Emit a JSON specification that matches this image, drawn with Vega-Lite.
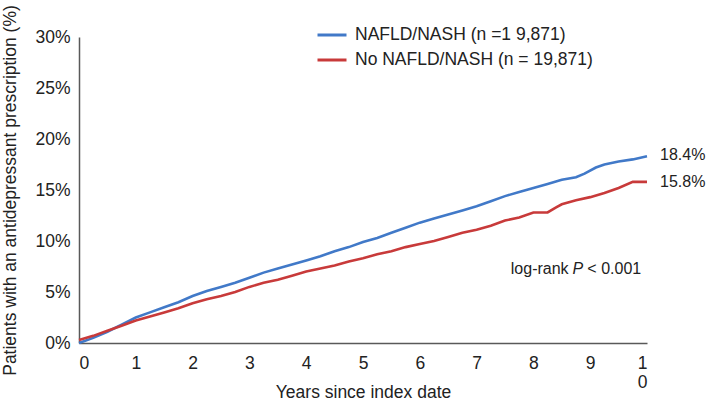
{
  "$schema": "https://vega.github.io/schema/vega-lite/v6.json",
  "width": 568,
  "height": 306,
  "autosize": "none",
  "padding": {"left": 79, "top": 37, "right": 62, "bottom": 59},
  "background": "white",
  "config": {
    "view": {"stroke": null},
    "font": "Liberation Sans",
    "axis": {
      "grid": false,
      "ticks": false,
      "domainColor": "#595959",
      "domainWidth": 1.5,
      "labelFont": "Liberation Sans",
      "labelFontSize": 17.5,
      "labelColor": "#222222",
      "titleFont": "Liberation Sans",
      "titleFontSize": 17.5,
      "titleFontWeight": "normal",
      "titleColor": "#222222"
    },
    "legend": {
      "labelFont": "Liberation Sans",
      "labelFontSize": 17.5,
      "labelColor": "#222222",
      "labelLimit": 0
    }
  },
  "datasets": {
    "curves": [
      {"year": 0, "pct": 0, "group": "NAFLD/NASH (n =1 9,871)"},
      {"year": 0.25, "pct": 0.5, "group": "NAFLD/NASH (n =1 9,871)"},
      {"year": 0.5, "pct": 1.1, "group": "NAFLD/NASH (n =1 9,871)"},
      {"year": 0.75, "pct": 1.8, "group": "NAFLD/NASH (n =1 9,871)"},
      {"year": 1, "pct": 2.5, "group": "NAFLD/NASH (n =1 9,871)"},
      {"year": 1.25, "pct": 3.0, "group": "NAFLD/NASH (n =1 9,871)"},
      {"year": 1.5, "pct": 3.5, "group": "NAFLD/NASH (n =1 9,871)"},
      {"year": 1.75, "pct": 4.0, "group": "NAFLD/NASH (n =1 9,871)"},
      {"year": 2, "pct": 4.6, "group": "NAFLD/NASH (n =1 9,871)"},
      {"year": 2.25, "pct": 5.1, "group": "NAFLD/NASH (n =1 9,871)"},
      {"year": 2.5, "pct": 5.5, "group": "NAFLD/NASH (n =1 9,871)"},
      {"year": 2.75, "pct": 5.9, "group": "NAFLD/NASH (n =1 9,871)"},
      {"year": 3, "pct": 6.4, "group": "NAFLD/NASH (n =1 9,871)"},
      {"year": 3.25, "pct": 6.9, "group": "NAFLD/NASH (n =1 9,871)"},
      {"year": 3.5, "pct": 7.3, "group": "NAFLD/NASH (n =1 9,871)"},
      {"year": 3.75, "pct": 7.7, "group": "NAFLD/NASH (n =1 9,871)"},
      {"year": 4, "pct": 8.1, "group": "NAFLD/NASH (n =1 9,871)"},
      {"year": 4.25, "pct": 8.5, "group": "NAFLD/NASH (n =1 9,871)"},
      {"year": 4.5, "pct": 9.0, "group": "NAFLD/NASH (n =1 9,871)"},
      {"year": 4.75, "pct": 9.4, "group": "NAFLD/NASH (n =1 9,871)"},
      {"year": 5, "pct": 9.9, "group": "NAFLD/NASH (n =1 9,871)"},
      {"year": 5.25, "pct": 10.3, "group": "NAFLD/NASH (n =1 9,871)"},
      {"year": 5.5, "pct": 10.8, "group": "NAFLD/NASH (n =1 9,871)"},
      {"year": 5.75, "pct": 11.3, "group": "NAFLD/NASH (n =1 9,871)"},
      {"year": 6, "pct": 11.8, "group": "NAFLD/NASH (n =1 9,871)"},
      {"year": 6.25, "pct": 12.2, "group": "NAFLD/NASH (n =1 9,871)"},
      {"year": 6.5, "pct": 12.6, "group": "NAFLD/NASH (n =1 9,871)"},
      {"year": 6.75, "pct": 13.0, "group": "NAFLD/NASH (n =1 9,871)"},
      {"year": 7, "pct": 13.4, "group": "NAFLD/NASH (n =1 9,871)"},
      {"year": 7.25, "pct": 13.9, "group": "NAFLD/NASH (n =1 9,871)"},
      {"year": 7.5, "pct": 14.4, "group": "NAFLD/NASH (n =1 9,871)"},
      {"year": 7.75, "pct": 14.8, "group": "NAFLD/NASH (n =1 9,871)"},
      {"year": 8, "pct": 15.2, "group": "NAFLD/NASH (n =1 9,871)"},
      {"year": 8.25, "pct": 15.6, "group": "NAFLD/NASH (n =1 9,871)"},
      {"year": 8.5, "pct": 16.0, "group": "NAFLD/NASH (n =1 9,871)"},
      {"year": 8.75, "pct": 16.25, "group": "NAFLD/NASH (n =1 9,871)"},
      {"year": 8.9, "pct": 16.6, "group": "NAFLD/NASH (n =1 9,871)"},
      {"year": 9.1, "pct": 17.2, "group": "NAFLD/NASH (n =1 9,871)"},
      {"year": 9.25, "pct": 17.5, "group": "NAFLD/NASH (n =1 9,871)"},
      {"year": 9.5, "pct": 17.8, "group": "NAFLD/NASH (n =1 9,871)"},
      {"year": 9.75, "pct": 18.0, "group": "NAFLD/NASH (n =1 9,871)"},
      {"year": 10, "pct": 18.3, "group": "NAFLD/NASH (n =1 9,871)"},
      {"year": 0, "pct": 0.3, "group": "No NAFLD/NASH (n = 19,871)"},
      {"year": 0.25, "pct": 0.7, "group": "No NAFLD/NASH (n = 19,871)"},
      {"year": 0.5, "pct": 1.2, "group": "No NAFLD/NASH (n = 19,871)"},
      {"year": 0.75, "pct": 1.7, "group": "No NAFLD/NASH (n = 19,871)"},
      {"year": 1, "pct": 2.2, "group": "No NAFLD/NASH (n = 19,871)"},
      {"year": 1.25, "pct": 2.6, "group": "No NAFLD/NASH (n = 19,871)"},
      {"year": 1.5, "pct": 3.0, "group": "No NAFLD/NASH (n = 19,871)"},
      {"year": 1.75, "pct": 3.4, "group": "No NAFLD/NASH (n = 19,871)"},
      {"year": 2, "pct": 3.9, "group": "No NAFLD/NASH (n = 19,871)"},
      {"year": 2.25, "pct": 4.3, "group": "No NAFLD/NASH (n = 19,871)"},
      {"year": 2.5, "pct": 4.6, "group": "No NAFLD/NASH (n = 19,871)"},
      {"year": 2.75, "pct": 5.0, "group": "No NAFLD/NASH (n = 19,871)"},
      {"year": 3, "pct": 5.5, "group": "No NAFLD/NASH (n = 19,871)"},
      {"year": 3.25, "pct": 5.9, "group": "No NAFLD/NASH (n = 19,871)"},
      {"year": 3.5, "pct": 6.2, "group": "No NAFLD/NASH (n = 19,871)"},
      {"year": 3.75, "pct": 6.6, "group": "No NAFLD/NASH (n = 19,871)"},
      {"year": 4, "pct": 7.0, "group": "No NAFLD/NASH (n = 19,871)"},
      {"year": 4.25, "pct": 7.3, "group": "No NAFLD/NASH (n = 19,871)"},
      {"year": 4.5, "pct": 7.6, "group": "No NAFLD/NASH (n = 19,871)"},
      {"year": 4.75, "pct": 8.0, "group": "No NAFLD/NASH (n = 19,871)"},
      {"year": 5, "pct": 8.3, "group": "No NAFLD/NASH (n = 19,871)"},
      {"year": 5.25, "pct": 8.7, "group": "No NAFLD/NASH (n = 19,871)"},
      {"year": 5.5, "pct": 9.0, "group": "No NAFLD/NASH (n = 19,871)"},
      {"year": 5.75, "pct": 9.4, "group": "No NAFLD/NASH (n = 19,871)"},
      {"year": 6, "pct": 9.7, "group": "No NAFLD/NASH (n = 19,871)"},
      {"year": 6.25, "pct": 10.0, "group": "No NAFLD/NASH (n = 19,871)"},
      {"year": 6.5, "pct": 10.4, "group": "No NAFLD/NASH (n = 19,871)"},
      {"year": 6.75, "pct": 10.8, "group": "No NAFLD/NASH (n = 19,871)"},
      {"year": 7, "pct": 11.1, "group": "No NAFLD/NASH (n = 19,871)"},
      {"year": 7.25, "pct": 11.5, "group": "No NAFLD/NASH (n = 19,871)"},
      {"year": 7.5, "pct": 12.0, "group": "No NAFLD/NASH (n = 19,871)"},
      {"year": 7.75, "pct": 12.3, "group": "No NAFLD/NASH (n = 19,871)"},
      {"year": 8, "pct": 12.8, "group": "No NAFLD/NASH (n = 19,871)"},
      {"year": 8.25, "pct": 12.8, "group": "No NAFLD/NASH (n = 19,871)"},
      {"year": 8.4, "pct": 13.3, "group": "No NAFLD/NASH (n = 19,871)"},
      {"year": 8.5, "pct": 13.6, "group": "No NAFLD/NASH (n = 19,871)"},
      {"year": 8.75, "pct": 14.0, "group": "No NAFLD/NASH (n = 19,871)"},
      {"year": 9, "pct": 14.3, "group": "No NAFLD/NASH (n = 19,871)"},
      {"year": 9.25, "pct": 14.7, "group": "No NAFLD/NASH (n = 19,871)"},
      {"year": 9.5, "pct": 15.2, "group": "No NAFLD/NASH (n = 19,871)"},
      {"year": 9.75, "pct": 15.8, "group": "No NAFLD/NASH (n = 19,871)"},
      {"year": 10, "pct": 15.8, "group": "No NAFLD/NASH (n = 19,871)"}
    ],
    "endLabels": [
      {"year": 10, "pct": 18.4, "label": "18.4%"},
      {"year": 10, "pct": 15.8, "label": "15.8%"}
    ],
    "note": [
      {"year": 8.62, "pct": 7.25, "part": "log-rank", "style": "normal", "align": "right"},
      {"year": 8.78, "pct": 7.25, "part": "P", "style": "italic", "align": "center"},
      {"year": 8.95, "pct": 7.25, "part": "< 0.001", "style": "normal", "align": "left"}
    ]
  },
  "encoding": {
    "x": {
      "field": "year",
      "type": "quantitative",
      "scale": {"domain": [0, 10], "nice": false},
      "axis": {
        "title": "Years since index date",
        "values": [0, 1, 2, 3, 4, 5, 6, 7, 8, 9, 10],
        "labelExpr": "datum.value == 10 ? ['1', '0'] : datum.label",
        "labelLineHeight": 19,
        "labelPadding": 11,
        "titleY": 49,
        "titleBaseline": "middle"
      }
    },
    "y": {
      "field": "pct",
      "type": "quantitative",
      "scale": {"domain": [0, 30], "nice": false},
      "axis": {
        "title": "Patients with an antidepressant prescription (%)",
        "values": [0, 5, 10, 15, 20, 25, 30],
        "labelExpr": "datum.value + '%'",
        "labelPadding": 9,
        "titlePadding": 15
      }
    }
  },
  "layer": [
    {
      "data": {"name": "curves"},
      "mark": {"type": "line", "strokeWidth": 2.6},
      "encoding": {
        "color": {
          "field": "group",
          "type": "nominal",
          "scale": {
            "domain": ["NAFLD/NASH (n =1 9,871)", "No NAFLD/NASH (n = 19,871)"],
            "range": ["#4179c8", "#c83a3a"]
          },
          "legend": {
            "title": null,
            "orient": "none",
            "legendX": 237,
            "legendY": -18,
            "symbolType": "stroke",
            "symbolSize": 841,
            "symbolStrokeWidth": 3,
            "labelOffset": 7,
            "rowPadding": 0
          }
        }
      }
    },
    {
      "data": {"name": "endLabels"},
      "mark": {
        "type": "text",
        "align": "left",
        "baseline": "middle",
        "dx": 13,
        "fontSize": 16,
        "color": "#222222"
      },
      "encoding": {"text": {"field": "label"}}
    },
    {
      "data": {"name": "note"},
      "transform": [{"filter": "datum.style == 'normal' && datum.align == 'right'"}],
      "mark": {"type": "text", "align": "right", "baseline": "middle", "fontSize": 16, "color": "#222222"},
      "encoding": {"text": {"field": "part"}}
    },
    {
      "data": {"name": "note"},
      "transform": [{"filter": "datum.style == 'italic'"}],
      "mark": {"type": "text", "align": "center", "baseline": "middle", "fontSize": 16, "fontStyle": "italic", "color": "#222222"},
      "encoding": {"text": {"field": "part"}}
    },
    {
      "data": {"name": "note"},
      "transform": [{"filter": "datum.style == 'normal' && datum.align == 'left'"}],
      "mark": {"type": "text", "align": "left", "baseline": "middle", "fontSize": 16, "color": "#222222"},
      "encoding": {"text": {"field": "part"}}
    }
  ]
}
